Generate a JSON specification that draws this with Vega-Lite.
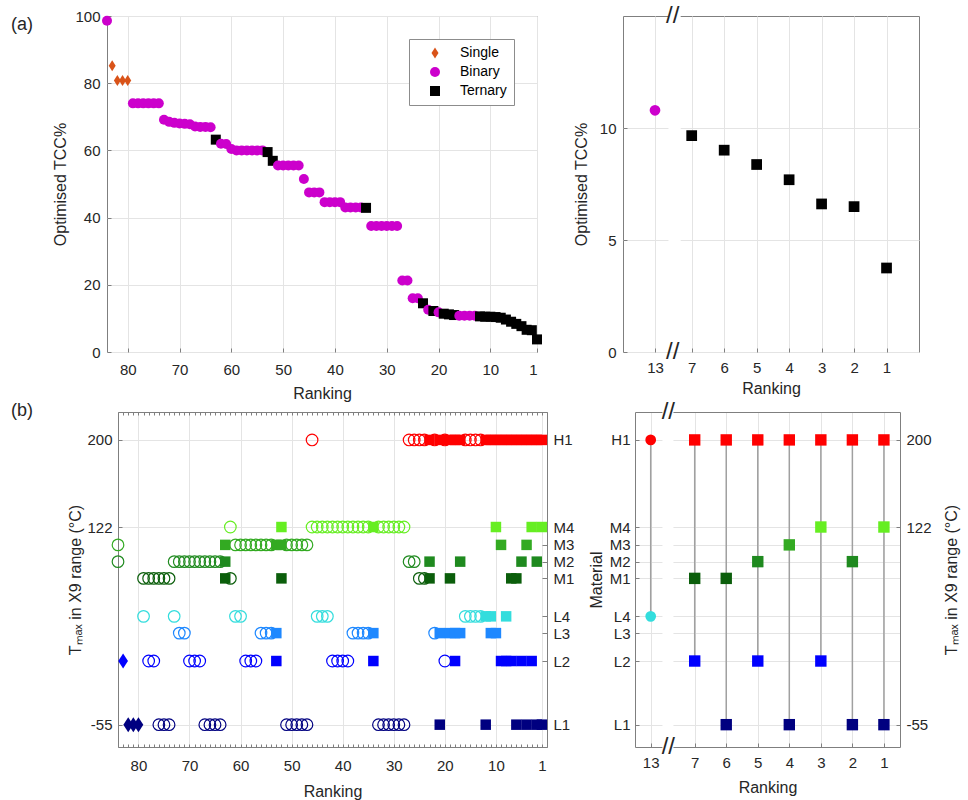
{
"$schema": "https://vega.github.io/schema/vega-lite/v6.json",
"background": "white",
"padding": {"left": 10, "top": 3, "right": 6, "bottom": 4},
"config": {
  "font": "Liberation Sans",
  "view": {"stroke": "#7f7f7f", "strokeWidth": 1},
  "axis": {"labelFont": "Liberation Sans", "labelFontSize": 15, "labelColor": "#262626", "titleFont": "Liberation Sans", "titleFontSize": 16, "titleFontWeight": "normal", "titleColor": "#262626", "gridColor": "#e4e4e4", "domain": false, "domainColor": "#7f7f7f", "ticks": false, "tickColor": "#7f7f7f", "labelOverlap": false},
  "title": {"font": "Liberation Sans", "fontSize": 18, "fontWeight": "normal", "color": "#262626"}
},
"datasets": {
  "materials": [
    {"mat":"H1","temp":200},{"mat":"M4","temp":122},{"mat":"M3","temp":106},{"mat":"M2","temp":91},{"mat":"M1","temp":76},
    {"mat":"L4","temp":42},{"mat":"L3","temp":27},{"mat":"L2","temp":2},{"mat":"L1","temp":-55}
  ],
  "tcc": [
    {"rank":84,"tcc":98.6,"type":"Binary"},{"rank":83,"tcc":85.2,"type":"Single"},{"rank":82,"tcc":80.8,"type":"Single"},{"rank":81,"tcc":80.8,"type":"Single"},{"rank":80,"tcc":80.8,"type":"Single"},
    {"rank":79,"tcc":74.0,"type":"Binary"},{"rank":78,"tcc":74.0,"type":"Binary"},{"rank":77,"tcc":74.0,"type":"Binary"},{"rank":76,"tcc":74.0,"type":"Binary"},{"rank":75,"tcc":74.0,"type":"Binary"},{"rank":74,"tcc":74.0,"type":"Binary"},
    {"rank":73,"tcc":69.1,"type":"Binary"},{"rank":72,"tcc":68.5,"type":"Binary"},{"rank":71,"tcc":68.2,"type":"Binary"},{"rank":70,"tcc":68.0,"type":"Binary"},{"rank":69,"tcc":67.9,"type":"Binary"},{"rank":68,"tcc":67.8,"type":"Binary"},
    {"rank":67,"tcc":67.1,"type":"Binary"},{"rank":66,"tcc":67.0,"type":"Binary"},{"rank":65,"tcc":67.0,"type":"Binary"},{"rank":64,"tcc":66.9,"type":"Binary"},
    {"rank":63,"tcc":63.2,"type":"Ternary"},{"rank":62,"tcc":62.0,"type":"Binary"},{"rank":61,"tcc":61.9,"type":"Binary"},{"rank":60,"tcc":60.4,"type":"Binary"},
    {"rank":59,"tcc":60.0,"type":"Binary"},{"rank":58,"tcc":60.0,"type":"Binary"},{"rank":57,"tcc":60.0,"type":"Binary"},{"rank":56,"tcc":60.0,"type":"Binary"},{"rank":55,"tcc":60.0,"type":"Binary"},{"rank":54,"tcc":60.0,"type":"Binary"},
    {"rank":53,"tcc":59.5,"type":"Ternary"},{"rank":52,"tcc":56.9,"type":"Ternary"},
    {"rank":51,"tcc":55.5,"type":"Binary"},{"rank":50,"tcc":55.5,"type":"Binary"},{"rank":49,"tcc":55.5,"type":"Binary"},{"rank":48,"tcc":55.5,"type":"Binary"},{"rank":47,"tcc":55.5,"type":"Binary"},
    {"rank":46,"tcc":51.5,"type":"Binary"},{"rank":45,"tcc":47.5,"type":"Binary"},{"rank":44,"tcc":47.5,"type":"Binary"},{"rank":43,"tcc":47.5,"type":"Binary"},
    {"rank":42,"tcc":44.6,"type":"Binary"},{"rank":41,"tcc":44.6,"type":"Binary"},{"rank":40,"tcc":44.6,"type":"Binary"},{"rank":39,"tcc":44.6,"type":"Binary"},
    {"rank":38,"tcc":43.0,"type":"Binary"},{"rank":37,"tcc":43.0,"type":"Binary"},{"rank":36,"tcc":43.0,"type":"Binary"},{"rank":35,"tcc":43.0,"type":"Binary"},{"rank":34,"tcc":42.9,"type":"Ternary"},
    {"rank":33,"tcc":37.5,"type":"Binary"},{"rank":32,"tcc":37.5,"type":"Binary"},{"rank":31,"tcc":37.5,"type":"Binary"},{"rank":30,"tcc":37.5,"type":"Binary"},{"rank":29,"tcc":37.5,"type":"Binary"},{"rank":28,"tcc":37.5,"type":"Binary"},
    {"rank":27,"tcc":21.3,"type":"Binary"},{"rank":26,"tcc":21.3,"type":"Binary"},{"rank":25,"tcc":16.0,"type":"Binary"},{"rank":24,"tcc":16.0,"type":"Binary"},
    {"rank":23,"tcc":14.5,"type":"Ternary"},{"rank":22,"tcc":12.6,"type":"Binary"},{"rank":21,"tcc":12.2,"type":"Ternary"},{"rank":20,"tcc":11.8,"type":"Binary"},
    {"rank":19,"tcc":11.4,"type":"Ternary"},{"rank":18,"tcc":11.2,"type":"Ternary"},{"rank":17,"tcc":11.0,"type":"Ternary"},
    {"rank":16,"tcc":10.8,"type":"Binary"},{"rank":15,"tcc":10.8,"type":"Binary"},{"rank":14,"tcc":10.8,"type":"Binary"},{"rank":13,"tcc":10.79,"type":"Binary"},
    {"rank":12,"tcc":10.6,"type":"Ternary"},{"rank":11,"tcc":10.5,"type":"Ternary"},{"rank":10,"tcc":10.5,"type":"Ternary"},{"rank":9,"tcc":10.4,"type":"Ternary"},{"rank":8,"tcc":10.2,"type":"Ternary"},
    {"rank":7,"tcc":9.66,"type":"Ternary"},{"rank":6,"tcc":9.01,"type":"Ternary"},{"rank":5,"tcc":8.37,"type":"Ternary"},{"rank":4,"tcc":7.69,"type":"Ternary"},{"rank":3,"tcc":6.61,"type":"Ternary"},{"rank":2,"tcc":6.49,"type":"Ternary"},{"rank":1,"tcc":3.75,"type":"Ternary"}
  ],
  "comp": [
    {"rank":84,"mat":"M3"},{"rank":84,"mat":"M2"},{"rank":83,"mat":"L2"},{"rank":82,"mat":"L1"},{"rank":81,"mat":"L1"},{"rank":80,"mat":"L1"},
    {"rank":79,"mat":"M1"},{"rank":79,"mat":"L4"},{"rank":78,"mat":"M1"},{"rank":78,"mat":"L2"},{"rank":77,"mat":"M1"},{"rank":77,"mat":"L2"},
    {"rank":76,"mat":"M1"},{"rank":76,"mat":"L1"},{"rank":75,"mat":"M1"},{"rank":75,"mat":"L1"},{"rank":74,"mat":"M1"},{"rank":74,"mat":"L1"},
    {"rank":73,"mat":"M2"},{"rank":73,"mat":"L4"},{"rank":72,"mat":"M2"},{"rank":72,"mat":"L3"},{"rank":71,"mat":"M2"},{"rank":71,"mat":"L3"},
    {"rank":70,"mat":"M2"},{"rank":70,"mat":"L2"},{"rank":69,"mat":"M2"},{"rank":69,"mat":"L2"},{"rank":68,"mat":"M2"},{"rank":68,"mat":"L2"},
    {"rank":67,"mat":"M2"},{"rank":67,"mat":"L1"},{"rank":66,"mat":"M2"},{"rank":66,"mat":"L1"},{"rank":65,"mat":"M2"},{"rank":65,"mat":"L1"},{"rank":64,"mat":"M2"},{"rank":64,"mat":"L1"},
    {"rank":63,"mat":"M3"},{"rank":63,"mat":"M2"},{"rank":63,"mat":"M1"},{"rank":62,"mat":"M4"},{"rank":62,"mat":"M1"},
    {"rank":61,"mat":"M3"},{"rank":61,"mat":"L4"},{"rank":60,"mat":"M3"},{"rank":60,"mat":"L4"},
    {"rank":59,"mat":"M3"},{"rank":59,"mat":"L2"},{"rank":58,"mat":"M3"},{"rank":58,"mat":"L2"},{"rank":57,"mat":"M3"},{"rank":57,"mat":"L2"},
    {"rank":56,"mat":"M3"},{"rank":56,"mat":"L3"},{"rank":55,"mat":"M3"},{"rank":55,"mat":"L3"},{"rank":54,"mat":"M3"},{"rank":54,"mat":"L3"},
    {"rank":53,"mat":"M3"},{"rank":53,"mat":"L3"},{"rank":53,"mat":"L2"},{"rank":52,"mat":"M4"},{"rank":52,"mat":"M3"},{"rank":52,"mat":"M1"},
    {"rank":51,"mat":"M3"},{"rank":51,"mat":"L1"},{"rank":50,"mat":"M3"},{"rank":50,"mat":"L1"},{"rank":49,"mat":"M3"},{"rank":49,"mat":"L1"},{"rank":48,"mat":"M3"},{"rank":48,"mat":"L1"},{"rank":47,"mat":"M3"},{"rank":47,"mat":"L1"},
    {"rank":46,"mat":"H1"},{"rank":46,"mat":"M4"},
    {"rank":45,"mat":"M4"},{"rank":45,"mat":"L4"},{"rank":44,"mat":"M4"},{"rank":44,"mat":"L4"},{"rank":43,"mat":"M4"},{"rank":43,"mat":"L4"},
    {"rank":42,"mat":"M4"},{"rank":42,"mat":"L2"},{"rank":41,"mat":"M4"},{"rank":41,"mat":"L2"},{"rank":40,"mat":"M4"},{"rank":40,"mat":"L2"},{"rank":39,"mat":"M4"},{"rank":39,"mat":"L2"},
    {"rank":38,"mat":"M4"},{"rank":38,"mat":"L3"},{"rank":37,"mat":"M4"},{"rank":37,"mat":"L3"},{"rank":36,"mat":"M4"},{"rank":36,"mat":"L3"},{"rank":35,"mat":"M4"},{"rank":35,"mat":"L3"},
    {"rank":34,"mat":"M4"},{"rank":34,"mat":"L3"},{"rank":34,"mat":"L2"},
    {"rank":33,"mat":"M4"},{"rank":33,"mat":"L1"},{"rank":32,"mat":"M4"},{"rank":32,"mat":"L1"},{"rank":31,"mat":"M4"},{"rank":31,"mat":"L1"},
    {"rank":30,"mat":"M4"},{"rank":30,"mat":"L1"},{"rank":29,"mat":"M4"},{"rank":29,"mat":"L1"},{"rank":28,"mat":"M4"},{"rank":28,"mat":"L1"},
    {"rank":27,"mat":"H1"},{"rank":27,"mat":"M2"},{"rank":26,"mat":"H1"},{"rank":26,"mat":"M2"},{"rank":25,"mat":"H1"},{"rank":25,"mat":"M1"},{"rank":24,"mat":"H1"},{"rank":24,"mat":"M1"},
    {"rank":23,"mat":"H1"},{"rank":23,"mat":"M2"},{"rank":23,"mat":"M1"},{"rank":22,"mat":"H1"},{"rank":22,"mat":"L3"},
    {"rank":21,"mat":"H1"},{"rank":21,"mat":"L3"},{"rank":21,"mat":"L1"},{"rank":20,"mat":"H1"},{"rank":20,"mat":"L2"},
    {"rank":19,"mat":"H1"},{"rank":19,"mat":"M1"},{"rank":19,"mat":"L3"},{"rank":18,"mat":"H1"},{"rank":18,"mat":"L3"},{"rank":18,"mat":"L2"},
    {"rank":17,"mat":"H1"},{"rank":17,"mat":"M2"},{"rank":17,"mat":"L3"},
    {"rank":16,"mat":"H1"},{"rank":16,"mat":"L4"},{"rank":15,"mat":"H1"},{"rank":15,"mat":"L4"},{"rank":14,"mat":"H1"},{"rank":14,"mat":"L4"},{"rank":13,"mat":"H1"},{"rank":13,"mat":"L4"},
    {"rank":12,"mat":"H1"},{"rank":12,"mat":"L4"},{"rank":12,"mat":"L1"},{"rank":11,"mat":"H1"},{"rank":11,"mat":"L4"},{"rank":11,"mat":"L3"},
    {"rank":10,"mat":"H1"},{"rank":10,"mat":"M4"},{"rank":10,"mat":"L3"},{"rank":9,"mat":"H1"},{"rank":9,"mat":"M3"},{"rank":9,"mat":"L2"},
    {"rank":8,"mat":"H1"},{"rank":8,"mat":"L4"},{"rank":8,"mat":"L2"},{"rank":7,"mat":"H1"},{"rank":7,"mat":"M1"},{"rank":7,"mat":"L2"},
    {"rank":6,"mat":"H1"},{"rank":6,"mat":"M1"},{"rank":6,"mat":"L1"},{"rank":5,"mat":"H1"},{"rank":5,"mat":"M2"},{"rank":5,"mat":"L2"},
    {"rank":4,"mat":"H1"},{"rank":4,"mat":"M3"},{"rank":4,"mat":"L1"},{"rank":3,"mat":"H1"},{"rank":3,"mat":"M4"},{"rank":3,"mat":"L2"},
    {"rank":2,"mat":"H1"},{"rank":2,"mat":"M2"},{"rank":2,"mat":"L1"},{"rank":1,"mat":"H1"},{"rank":1,"mat":"M4"},{"rank":1,"mat":"L1"}
  ]
},
"resolve": {"scale": {"color": "independent", "shape": "independent"}},
"bounds": "flush",
"columns": 2,
"spacing": {"row": 60, "column": 76},
"concat": [
  {
    "width": 430, "height": 336,
    "title": {"text": "(a)", "anchor": "start", "frame": "group", "offset": 0, "dx": -96, "dy": 25},
    "data": {"name": "tcc"},
    "mark": {"type": "point", "filled": true, "size": 100, "opacity": 1},
    "encoding": {
      "x": {"field": "rank", "type": "quantitative", "scale": {"domain": [1, 84], "reverse": true, "zero": false, "nice": false},
            "axis": {"values": [1,10,20,30,40,50,60,70,80], "title": "Ranking", "grid": true, "ticks": true, "tickSize": -4, "labelPadding": 14, "titlePadding": 8}},
      "y": {"field": "tcc", "type": "quantitative", "scale": {"domain": [0, 100], "zero": false, "nice": false},
            "axis": {"values": [0,20,40,60,80,100], "title": "Optimised TCC%", "grid": true, "ticks": true, "tickSize": -4, "labelPadding": 11, "titlePadding": 6}},
      "color": {"field": "type", "type": "nominal", "scale": {"domain": ["Single","Binary","Ternary"], "range": ["#d95319","#cc00cc","#000000"]},
                "legend": {"title": null, "orient": "top-right", "offset": 23, "fillColor": "white", "strokeColor": "#8c8c8c", "padding": 7, "symbolOffset": 12, "labelOffset": 18, "labelFontSize": 14, "labelFont": "Liberation Sans", "labelColor": "#000000", "symbolSize": 100, "rowPadding": 5}},
      "shape": {"field": "type", "type": "nominal", "scale": {"domain": ["Single","Binary","Ternary"], "range": ["M0,-1.1L0.7,0L0,1.1L-0.7,0Z","circle","square"]},
                "legend": {"title": null, "orient": "top-right", "offset": 23, "fillColor": "white", "strokeColor": "#8c8c8c", "padding": 7, "symbolOffset": 12, "labelOffset": 18, "labelFontSize": 14, "labelFont": "Liberation Sans", "labelColor": "#000000", "symbolSize": 100, "rowPadding": 5}}
    }
  },
  {
    "width": 296, "height": 336,
    "layer": [
      {
        "data": {"values": [{}]},
        "mark": {"type": "rect", "color": "white"},
        "encoding": {
          "x": {"datum": 10.8, "type": "quantitative", "scale": {"domain": [0, 7, 13, 18.2], "range": [296, 68.7, 32, 0], "zero": false, "nice": false}, "axis": null},
          "x2": {"datum": 8.8},
          "y": {"datum": 0, "type": "quantitative", "scale": {"domain": [0, 15], "zero": false, "nice": false}, "axis": null},
          "y2": {"datum": 15}
        }
      },
      {
        "data": {"name": "tcc"},
        "transform": [{"filter": "datum.rank <= 7 || datum.rank == 13"}],
        "mark": {"type": "point", "filled": true, "size": 115, "opacity": 1},
        "encoding": {
          "x": {"field": "rank", "type": "quantitative", "scale": {"domain": [0, 7, 13, 18.2], "range": [296, 68.7, 32, 0], "zero": false, "nice": false},
                "axis": {"values": [1,2,3,4,5,6,7,13], "title": "Ranking", "grid": true, "ticks": true, "tickSize": -4, "labelPadding": 12, "titlePadding": 5}},
          "y": {"field": "tcc", "type": "quantitative", "scale": {"domain": [0, 15], "zero": false, "nice": false},
                "axis": {"values": [0,5,10], "title": "Optimised TCC%", "grid": true, "ticks": true, "tickSize": -4, "labelPadding": 11, "titlePadding": 10}},
          "color": {"field": "type", "type": "nominal", "scale": {"domain": ["Single","Binary","Ternary"], "range": ["#d95319","#cc00cc","#000000"]}, "legend": null},
          "shape": {"field": "type", "type": "nominal", "scale": {"domain": ["Single","Binary","Ternary"], "range": ["M0,-1.1L0.7,0L0,1.1L-0.7,0Z","circle","square"]}, "legend": null}
        }
      },
      {
        "data": {"values": [{}]},
        "mark": {"type": "text", "text": "//", "fontSize": 24, "color": "#262626", "baseline": "middle", "align": "center"},
        "encoding": {
          "x": {"datum": 10.1, "type": "quantitative", "scale": {"domain": [0, 7, 13, 18.2], "range": [296, 68.7, 32, 0], "zero": false, "nice": false}, "axis": null},
          "y": {"datum": 15, "type": "quantitative", "scale": {"domain": [0, 15], "zero": false, "nice": false}, "axis": null}
        }
      },
      {
        "data": {"values": [{}]},
        "mark": {"type": "text", "text": "//", "fontSize": 24, "color": "#262626", "baseline": "middle", "align": "center"},
        "encoding": {
          "x": {"datum": 10.1, "type": "quantitative", "scale": {"domain": [0, 7, 13, 18.2], "range": [296, 68.7, 32, 0], "zero": false, "nice": false}, "axis": null},
          "y": {"datum": 0, "type": "quantitative", "scale": {"domain": [0, 15], "zero": false, "nice": false}, "axis": null}
        }
      }
    ],
    "resolve": {"axis": {"x": "independent", "y": "independent"}}
  },
  {
    "width": 440, "height": 335,
    "view": {"stroke": null},
    "title": {"text": "(b)", "anchor": "start", "frame": "group", "offset": 0, "dx": -96, "dy": 8},
    "data": {"name": "comp"},
    "transform": [
      {"lookup": "mat", "from": {"data": {"name": "materials"}, "key": "mat", "fields": ["temp"]}},
      {"lookup": "rank", "from": {"data": {"name": "tcc"}, "key": "rank", "fields": ["type"]}}
    ],
    "layer": [
      {
        "transform": [{"filter": "datum.type == 'Binary'"}],
        "mark": {"type": "point", "shape": "circle", "filled": false, "size": 135, "strokeWidth": 1.2, "opacity": 1},
        "encoding": {
          "x": {"field": "rank", "type": "quantitative", "scale": {"domain": [0, 84], "range": [440, 11], "zero": false, "nice": false},
                "axis": {"orient": "bottom", "values": [1,10,20,30,40,50,60,70,80], "title": "Ranking", "grid": true, "domain": true, "labelPadding": 11, "titlePadding": 10}},
          "y": {"field": "temp", "type": "quantitative", "scale": {"domain": [-75, 225], "zero": false, "nice": false},
                "axis": {"orient": "left", "offset": -11, "values": [-55,122,200], "labelExpr": "'' + datum.value", "title": "T\u2098\u2090\u2093 in X9 range (\u00b0C)", "grid": true, "domain": true, "ticks": true, "tickSize": -4, "labelPadding": 10, "titlePadding": 3}},
          "color": {"field": "mat", "type": "nominal", "scale": {"domain": ["H1","M4","M3","M2","M1","L4","L3","L2","L1"], "range": ["#ff0000","#66ee22","#33aa22","#1f8a1f","#0b5e0b","#33dddd","#1e88ff","#0000ff","#000080"]}, "legend": null}
        }
      },
      {
        "transform": [{"filter": "datum.type == 'Ternary'"}],
        "mark": {"type": "point", "shape": "square", "filled": true, "size": 110, "opacity": 1},
        "encoding": {
          "x": {"field": "rank", "type": "quantitative", "scale": {"domain": [0, 84], "range": [440, 11], "zero": false, "nice": false},
                "axis": {"orient": "top", "tickCount": 84, "labels": false, "ticks": true, "tickSize": -3, "grid": false, "domain": true, "title": null}},
          "y": {"field": "temp", "type": "quantitative", "scale": {"domain": [-75, 225], "zero": false, "nice": false},
                "axis": {"orient": "right", "values": [200,122,106,91,76,42,27,2,-55], "labelExpr": "datum.value == 200 ? 'H1' : datum.value == 122 ? 'M4' : datum.value == 106 ? 'M3' : datum.value == 91 ? 'M2' : datum.value == 76 ? 'M1' : datum.value == 42 ? 'L4' : datum.value == 27 ? 'L3' : datum.value == 2 ? 'L2' : 'L1'", "grid": false, "domain": true, "ticks": true, "tickSize": -5, "labelPadding": 11, "title": null}},
          "color": {"field": "mat", "type": "nominal", "scale": {"domain": ["H1","M4","M3","M2","M1","L4","L3","L2","L1"], "range": ["#ff0000","#66ee22","#33aa22","#1f8a1f","#0b5e0b","#33dddd","#1e88ff","#0000ff","#000080"]}, "legend": null}
        }
      },
      {
        "transform": [{"filter": "datum.type == 'Single'"}],
        "mark": {"type": "point", "shape": "M0,-1L0.65,0L0,1L-0.65,0Z", "filled": true, "size": 225, "opacity": 1},
        "encoding": {
          "x": {"field": "rank", "type": "quantitative", "scale": {"domain": [0, 84], "range": [440, 11], "zero": false, "nice": false},
                "axis": {"orient": "bottom", "tickCount": 84, "labels": false, "ticks": true, "tickSize": -3, "grid": false, "title": null}},
          "y": {"field": "temp", "type": "quantitative", "scale": {"domain": [-75, 225], "zero": false, "nice": false}, "axis": null},
          "color": {"field": "mat", "type": "nominal", "scale": {"domain": ["H1","M4","M3","M2","M1","L4","L3","L2","L1"], "range": ["#ff0000","#66ee22","#33aa22","#1f8a1f","#0b5e0b","#33dddd","#1e88ff","#0000ff","#000080"]}, "legend": null}
        }
      }
    ],
    "resolve": {"axis": {"x": "independent", "y": "independent"}}
  },
  {
    "width": 277, "height": 335,
    "view": {"stroke": null},
    "layer": [
      {
        "data": {"values": [{}]},
        "mark": {"type": "rect", "color": "white"},
        "encoding": {
          "x": {"datum": 11.4, "type": "quantitative", "scale": {"domain": [0.49, 7, 13, 15.14], "range": [277, 71.7, 27.7, 12], "zero": false, "nice": false}, "axis": null},
          "x2": {"datum": 9.9},
          "y": {"datum": -78, "type": "quantitative", "scale": {"domain": [-75, 225], "zero": false, "nice": false}, "axis": null},
          "y2": {"datum": 228}
        }
      },
      {
        "data": {"name": "comp"},
        "transform": [
          {"filter": "datum.rank <= 7 || datum.rank == 13"},
          {"lookup": "mat", "from": {"data": {"name": "materials"}, "key": "mat", "fields": ["temp"]}}
        ],
        "mark": {"type": "rule", "color": "#a0a0a0", "strokeWidth": 1.5},
        "encoding": {
          "x": {"field": "rank", "type": "quantitative", "scale": {"domain": [0.49, 7, 13, 15.14], "range": [277, 71.7, 27.7, 12], "zero": false, "nice": false},
                "axis": {"orient": "bottom", "values": [1,2,3,4,5,6,7,13], "title": "Ranking", "grid": true, "domain": true, "zindex": 0, "ticks": true, "tickSize": -4, "labelPadding": 12, "titlePadding": 9}},
          "y": {"aggregate": "max", "field": "temp", "type": "quantitative", "scale": {"domain": [-75, 225], "zero": false, "nice": false},
                "axis": {"orient": "left", "offset": -12, "values": [200,122,106,91,76,42,27,2,-55], "labelExpr": "datum.value == 200 ? 'H1' : datum.value == 122 ? 'M4' : datum.value == 106 ? 'M3' : datum.value == 91 ? 'M2' : datum.value == 76 ? 'M1' : datum.value == 42 ? 'L4' : datum.value == 27 ? 'L3' : datum.value == 2 ? 'L2' : 'L1'", "grid": true, "domain": true, "ticks": true, "tickSize": -4, "title": "Material", "labelPadding": 9, "titlePadding": 5}},
          "y2": {"aggregate": "min", "field": "temp"}
        }
      },
      {
        "data": {"name": "comp"},
        "transform": [
          {"filter": "datum.rank == 13"},
          {"lookup": "mat", "from": {"data": {"name": "materials"}, "key": "mat", "fields": ["temp"]}}
        ],
        "mark": {"type": "point", "shape": "circle", "filled": true, "size": 115, "opacity": 1},
        "encoding": {
          "x": {"field": "rank", "type": "quantitative", "scale": {"domain": [0.49, 7, 13, 15.14], "range": [277, 71.7, 27.7, 12], "zero": false, "nice": false},
                "axis": {"orient": "top", "labels": false, "ticks": false, "grid": false, "domain": true, "zindex": 0, "title": null}},
          "y": {"field": "temp", "type": "quantitative", "scale": {"domain": [-75, 225], "zero": false, "nice": false}, "axis": null},
          "color": {"field": "mat", "type": "nominal", "scale": {"domain": ["H1","M4","M3","M2","M1","L4","L3","L2","L1"], "range": ["#ff0000","#66ee22","#33aa22","#1f8a1f","#0b5e0b","#33dddd","#1e88ff","#0000ff","#000080"]}, "legend": null}
        }
      },
      {
        "data": {"name": "comp"},
        "transform": [
          {"filter": "datum.rank <= 7"},
          {"lookup": "mat", "from": {"data": {"name": "materials"}, "key": "mat", "fields": ["temp"]}}
        ],
        "mark": {"type": "point", "shape": "square", "filled": true, "size": 130, "opacity": 1},
        "encoding": {
          "x": {"field": "rank", "type": "quantitative", "scale": {"domain": [0.49, 7, 13, 15.14], "range": [277, 71.7, 27.7, 12], "zero": false, "nice": false}, "axis": null},
          "y": {"field": "temp", "type": "quantitative", "scale": {"domain": [-75, 225], "zero": false, "nice": false},
                "axis": {"orient": "right", "values": [-55,122,200], "labelExpr": "'' + datum.value", "title": "T\u2098\u2090\u2093 in X9 range (\u00b0C)", "titleAngle": 270, "titleBaseline": "top", "grid": false, "domain": true, "ticks": true, "tickSize": -4, "labelPadding": 10, "titlePadding": 12}},
          "color": {"field": "mat", "type": "nominal", "scale": {"domain": ["H1","M4","M3","M2","M1","L4","L3","L2","L1"], "range": ["#ff0000","#66ee22","#33aa22","#1f8a1f","#0b5e0b","#33dddd","#1e88ff","#0000ff","#000080"]}, "legend": null}
        }
      },
      {
        "data": {"values": [{}]},
        "mark": {"type": "text", "text": "//", "fontSize": 24, "color": "#262626", "baseline": "middle", "align": "center"},
        "encoding": {
          "x": {"datum": 10.6, "type": "quantitative", "scale": {"domain": [0.49, 7, 13, 15.14], "range": [277, 71.7, 27.7, 12], "zero": false, "nice": false}, "axis": null},
          "y": {"datum": 225, "type": "quantitative", "scale": {"domain": [-75, 225], "zero": false, "nice": false}, "axis": null}
        }
      },
      {
        "data": {"values": [{}]},
        "mark": {"type": "text", "text": "//", "fontSize": 24, "color": "#262626", "baseline": "middle", "align": "center"},
        "encoding": {
          "x": {"datum": 10.6, "type": "quantitative", "scale": {"domain": [0.49, 7, 13, 15.14], "range": [277, 71.7, 27.7, 12], "zero": false, "nice": false}, "axis": null},
          "y": {"datum": -75, "type": "quantitative", "scale": {"domain": [-75, 225], "zero": false, "nice": false}, "axis": null}
        }
      }
    ],
    "resolve": {"axis": {"x": "independent", "y": "independent"}}
  }
]
}
